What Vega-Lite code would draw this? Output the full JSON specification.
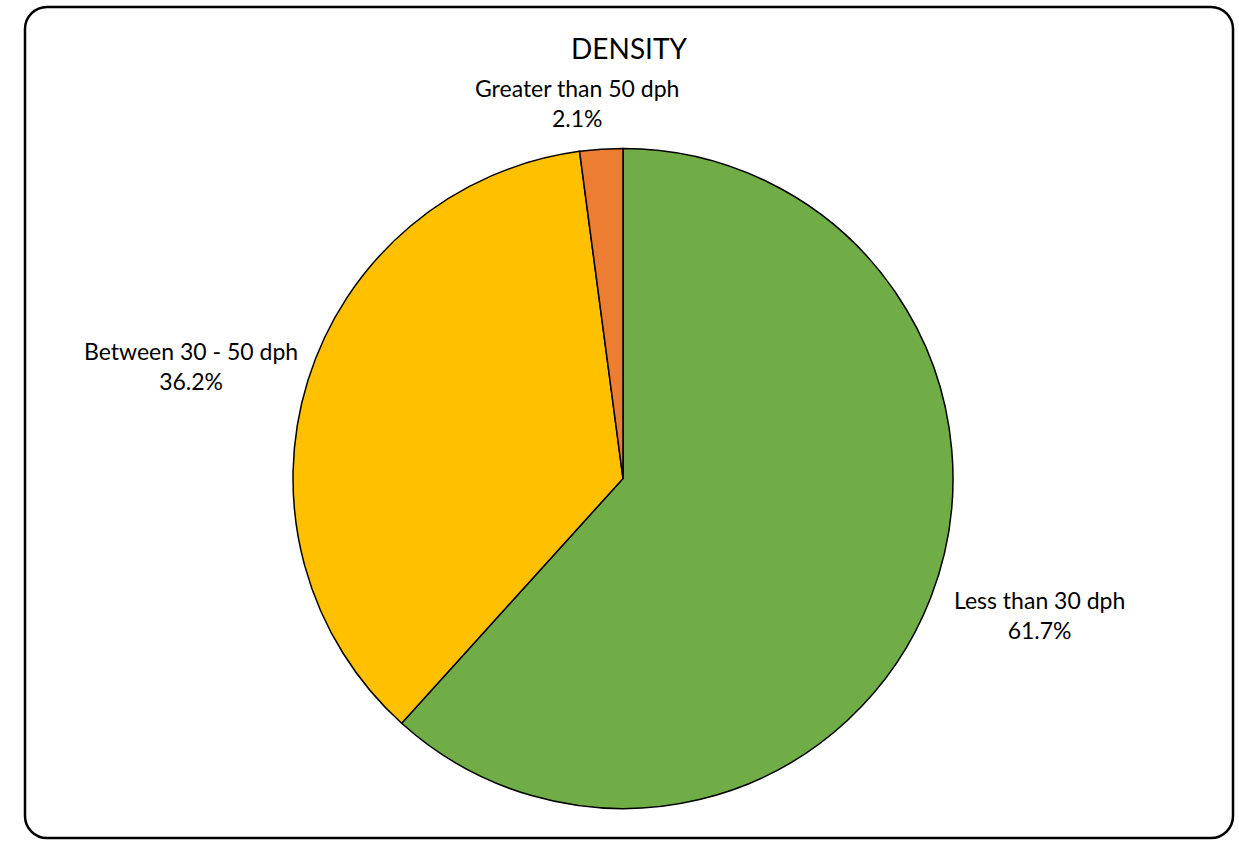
{
  "$schema": "https://vega.github.io/schema/vega-lite/v6.json",
  "width": 1208,
  "height": 831,
  "autosize": "none",
  "padding": {"left": 25, "top": 7, "right": 6, "bottom": 3},
  "background": "white",
  "view": {"stroke": "black", "strokeWidth": 2.5, "cornerRadius": 22, "fill": "white"},
  "config": {
    "view": {"stroke": "black", "strokeWidth": 2.5, "cornerRadius": 22},
    "font": "Lato"
  },
  "title": {
    "text": "DENSITY",
    "font": "Lato",
    "fontSize": 28,
    "fontWeight": "normal",
    "color": "black",
    "anchor": "middle",
    "baseline": "middle",
    "offset": -72
  },
  "data": {
    "values": [
      {"category": "Less than 30 dph", "share": 61.7, "order": 1},
      {"category": "Between 30 - 50 dph", "share": 36.2, "order": 2},
      {"category": "Greater than 50 dph", "share": 2.1, "order": 3}
    ]
  },
  "transform": [
    {"stack": "share", "groupby": [], "sort": [{"field": "order", "order": "ascending"}], "as": ["s0", "s1"]},
    {"calculate": "(datum.s0 + datum.s1) / 2", "as": "smid"},
    {"calculate": "datum.category + '\\n' + format(datum.share, '.1f') + '%'", "as": "label"}
  ],
  "layer": [
    {
      "mark": {
        "type": "arc",
        "outerRadius": 330,
        "stroke": "black",
        "strokeWidth": 1.5,
        "x": {"expr": "width / 2 - 6"},
        "y": {"expr": "height / 2 + 56"}
      },
      "encoding": {
        "theta": {"field": "s0", "type": "quantitative", "scale": {"domain": [0, 100]}},
        "theta2": {"field": "s1"},
        "color": {
          "field": "category",
          "type": "nominal",
          "scale": {
            "domain": ["Less than 30 dph", "Between 30 - 50 dph", "Greater than 50 dph"],
            "range": ["#70AD47", "#FFC000", "#ED7D31"]
          },
          "legend": null
        }
      }
    },
    {
      "transform": [{"filter": "datum.category == 'Less than 30 dph'"}],
      "mark": {
        "type": "text",
        "radius": 440,
        "dx": 6,
        "dy": -35,
        "fontSize": 23,
        "lineBreak": "\n",
        "lineHeight": 30,
        "align": "center",
        "baseline": "middle",
        "color": "black",
        "x": {"expr": "width / 2 - 6"},
        "y": {"expr": "height / 2 + 56"}
      },
      "encoding": {
        "theta": {"field": "smid", "type": "quantitative", "scale": {"domain": [0, 100]}},
        "text": {"field": "label", "type": "nominal"}
      }
    },
    {
      "transform": [{"filter": "datum.category == 'Between 30 - 50 dph'"}],
      "mark": {
        "type": "text",
        "radius": 445,
        "dx": -7,
        "dy": 7,
        "fontSize": 23,
        "lineBreak": "\n",
        "lineHeight": 30,
        "align": "center",
        "baseline": "middle",
        "color": "black",
        "x": {"expr": "width / 2 - 6"},
        "y": {"expr": "height / 2 + 56"}
      },
      "encoding": {
        "theta": {"field": "smid", "type": "quantitative", "scale": {"domain": [0, 100]}},
        "text": {"field": "label", "type": "nominal"}
      }
    },
    {
      "transform": [{"filter": "datum.category == 'Greater than 50 dph'"}],
      "mark": {
        "type": "text",
        "radius": 376,
        "dx": -21,
        "dy": -13,
        "fontSize": 23,
        "lineBreak": "\n",
        "lineHeight": 30,
        "align": "center",
        "baseline": "middle",
        "color": "black",
        "x": {"expr": "width / 2 - 6"},
        "y": {"expr": "height / 2 + 56"}
      },
      "encoding": {
        "theta": {"field": "smid", "type": "quantitative", "scale": {"domain": [0, 100]}},
        "text": {"field": "label", "type": "nominal"}
      }
    }
  ]
}
